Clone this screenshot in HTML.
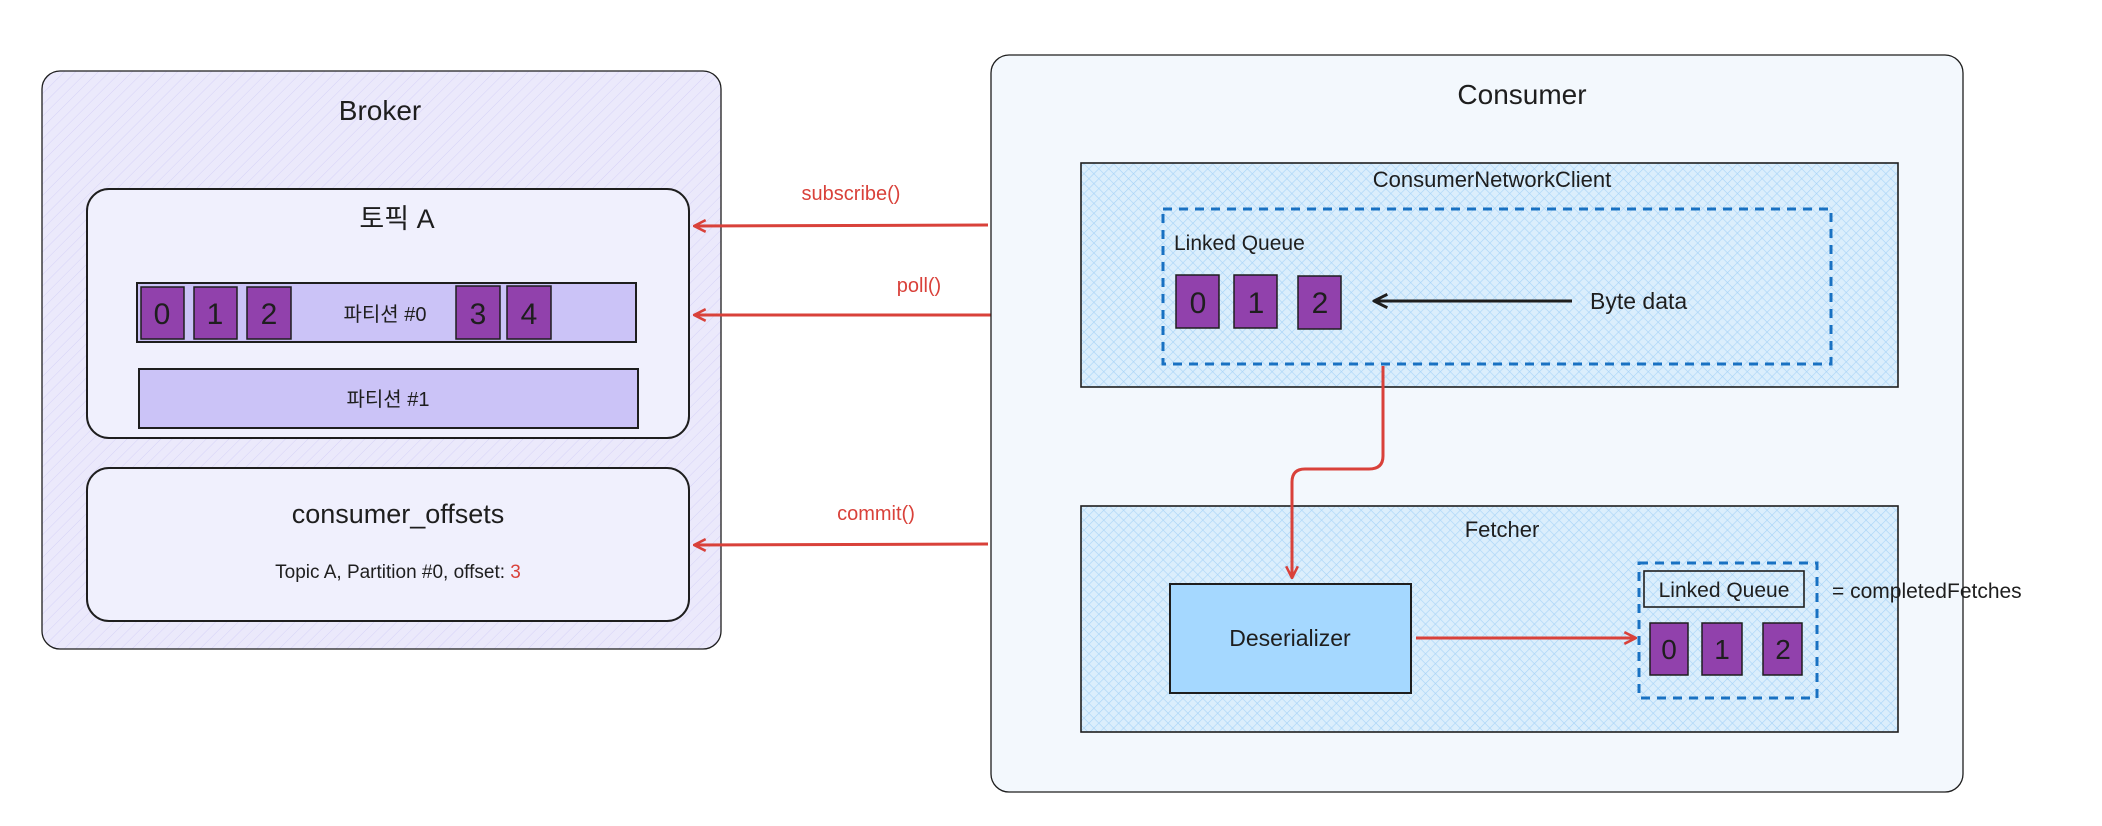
<!DOCTYPE html>
<html><head><meta charset="utf-8"><style>
html,body{margin:0;padding:0;background:#fff;}
svg{display:block;}
text{font-family:"Liberation Sans","Noto Sans CJK KR",sans-serif;fill:#1e1e1e;}
</style></head><body>
<svg width="2102" height="826" viewBox="0 0 2102 826" xmlns="http://www.w3.org/2000/svg">
<defs>
<pattern id="hp" width="8" height="8" patternUnits="userSpaceOnUse" patternTransform="rotate(45)">
<rect width="8" height="8" fill="#ebe9fb"/><line x1="0" y1="0" x2="0" y2="8" stroke="#d6d2f7" stroke-width="1"/></pattern>
<pattern id="hb" width="7" height="7" patternUnits="userSpaceOnUse" patternTransform="rotate(45)">
<rect width="7" height="7" fill="#dbeefc"/><line x1="0" y1="0" x2="0" y2="7" stroke="#a8d4f7" stroke-width="1.2"/><line x1="0" y1="0" x2="7" y2="0" stroke="#a8d4f7" stroke-width="1.2"/></pattern>
<marker id="ar" viewBox="0 0 12 12" refX="11" refY="6" markerWidth="14" markerHeight="14" markerUnits="userSpaceOnUse" orient="auto"><path d="M1 1 L11 6 L1 11" fill="none" stroke="#d9413a" stroke-width="2.2"/></marker>
<marker id="ab" viewBox="0 0 12 12" refX="11" refY="6" markerWidth="16" markerHeight="16" markerUnits="userSpaceOnUse" orient="auto"><path d="M1 1 L11 6 L1 11" fill="none" stroke="#1e1e1e" stroke-width="2.2"/></marker>
</defs>

<!-- Broker -->
<rect x="42" y="71" width="679" height="578" rx="18" fill="url(#hp)" stroke="#1e1e1e" stroke-width="1.3"/>
<text x="380" y="120" font-size="28" text-anchor="middle">Broker</text>
<rect x="87" y="189" width="602" height="249" rx="22" fill="#f0f0fd" stroke="#1e1e1e" stroke-width="2"/>
<text x="397" y="228" font-size="27" text-anchor="middle">토픽 A</text>
<rect x="137" y="283" width="499" height="59" fill="#cbc3f7" stroke="#1e1e1e" stroke-width="2"/>
<g fill="#9141ac" stroke="#1e1e1e" stroke-width="1.5">
<rect x="141" y="287" width="43" height="52"/><rect x="194" y="287" width="43" height="52"/><rect x="247" y="287" width="44" height="52"/>
<rect x="456" y="286" width="44" height="53"/><rect x="507" y="286" width="44" height="53"/></g>
<g font-size="30" text-anchor="middle"><text x="162" y="324">0</text><text x="215" y="324">1</text><text x="269" y="324">2</text><text x="478" y="324">3</text><text x="529" y="324">4</text></g>
<text x="385" y="321" font-size="20" text-anchor="middle">파티션 #0</text>
<rect x="139" y="369" width="499" height="59" fill="#cbc3f7" stroke="#1e1e1e" stroke-width="2"/>
<text x="388" y="406" font-size="20" text-anchor="middle">파티션 #1</text>
<rect x="87" y="468" width="602" height="153" rx="22" fill="#f0f0fd" stroke="#1e1e1e" stroke-width="2"/>
<text x="398" y="523" font-size="27" text-anchor="middle">consumer_offsets</text>
<text x="398" y="578" font-size="19" text-anchor="middle">Topic A, Partition #0, offset: <tspan style="fill:#d9413a">3</tspan></text>

<!-- arrows to broker -->
<line x1="988" y1="225" x2="694" y2="226" stroke="#d9413a" stroke-width="3" marker-end="url(#ar)"/>
<text x="851" y="200" font-size="20" text-anchor="middle" style="fill:#d9413a">subscribe()</text>
<line x1="1079" y1="315" x2="694" y2="315" stroke="#d9413a" stroke-width="3" marker-end="url(#ar)"/>
<text x="919" y="292" font-size="20" text-anchor="middle" style="fill:#d9413a">poll()</text>
<line x1="988" y1="544" x2="694" y2="545" stroke="#d9413a" stroke-width="3" marker-end="url(#ar)"/>
<text x="876" y="520" font-size="20" text-anchor="middle" style="fill:#d9413a">commit()</text>

<!-- Consumer -->
<rect x="991" y="55" width="972" height="737" rx="18" fill="#f3f8fd" stroke="#1e1e1e" stroke-width="1.3"/>
<text x="1522" y="104" font-size="28" text-anchor="middle">Consumer</text>
<rect x="1081" y="163" width="817" height="224" fill="url(#hb)" stroke="#1e1e1e" stroke-width="1.6"/>
<text x="1492" y="187" font-size="22" text-anchor="middle">ConsumerNetworkClient</text>
<rect x="1163" y="209" width="668" height="155" fill="none" stroke="#1971c2" stroke-width="3" stroke-dasharray="9 7"/>
<text x="1174" y="250" font-size="21">Linked Queue</text>
<g fill="#9141ac" stroke="#1e1e1e" stroke-width="1.5">
<rect x="1176" y="275" width="43" height="53"/><rect x="1234" y="275" width="43" height="53"/><rect x="1298" y="276" width="43" height="53"/></g>
<g font-size="30" text-anchor="middle"><text x="1198" y="313">0</text><text x="1256" y="313">1</text><text x="1320" y="313">2</text></g>
<line x1="1572" y1="301" x2="1374" y2="301" stroke="#1e1e1e" stroke-width="3" marker-end="url(#ab)"/>
<text x="1590" y="309" font-size="23">Byte data</text>

<rect x="1081" y="506" width="817" height="226" fill="url(#hb)" stroke="#1e1e1e" stroke-width="1.6"/>
<path d="M1383 366 L1383 456 Q1383 469 1369 469 L1305 469 Q1292 469 1292 482 L1292 578" fill="none" stroke="#d9413a" stroke-width="3" marker-end="url(#ar)"/>
<text x="1502" y="537" font-size="22" text-anchor="middle">Fetcher</text>
<rect x="1170" y="584" width="241" height="109" fill="#a5d8ff" stroke="#1e1e1e" stroke-width="2"/>
<text x="1290" y="646" font-size="23" text-anchor="middle">Deserializer</text>
<line x1="1416" y1="638" x2="1636" y2="638" stroke="#d9413a" stroke-width="3" marker-end="url(#ar)"/>
<rect x="1639" y="563" width="178" height="135" fill="none" stroke="#1971c2" stroke-width="3" stroke-dasharray="9 7"/>
<rect x="1644" y="571" width="160" height="36" fill="none" stroke="#1e1e1e" stroke-width="1.6"/>
<text x="1724" y="597" font-size="21" text-anchor="middle">Linked Queue</text>
<g fill="#9141ac" stroke="#1e1e1e" stroke-width="1.5">
<rect x="1650" y="623" width="38" height="52"/><rect x="1702" y="623" width="40" height="52"/><rect x="1763" y="623" width="39" height="52"/></g>
<g font-size="28" text-anchor="middle"><text x="1669" y="659">0</text><text x="1722" y="659">1</text><text x="1783" y="659">2</text></g>
<text x="1832" y="598" font-size="21">= completedFetches</text>
</svg>
</body></html>
